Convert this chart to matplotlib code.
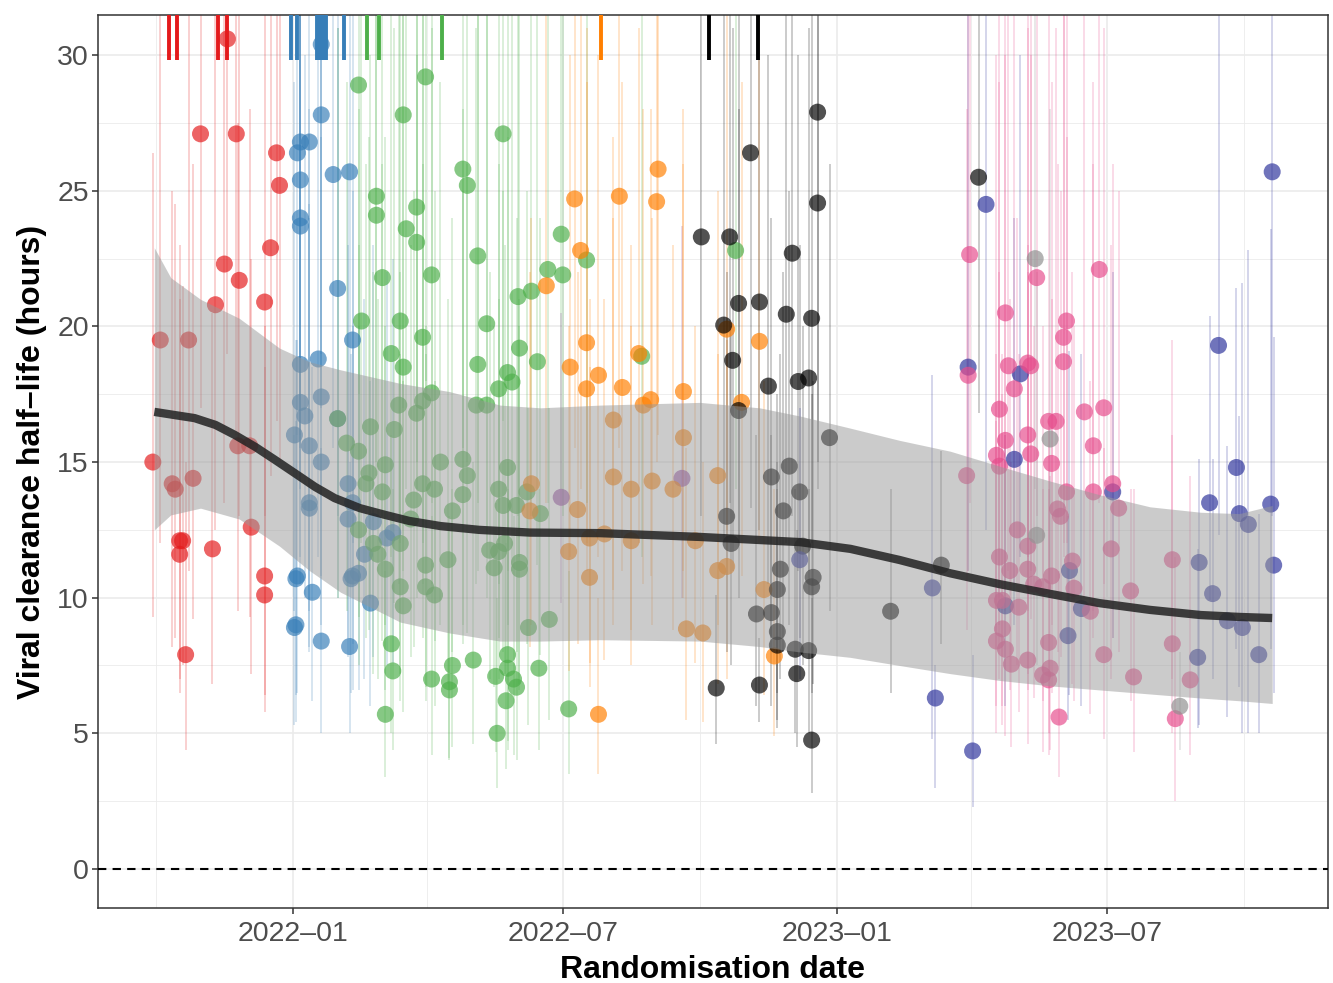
import numpy as np
import pandas as pd
import matplotlib
matplotlib.use("Agg")
from matplotlib import pyplot as plt
import matplotlib.dates as mdates
from matplotlib.ticker import MultipleLocator

plt.rcParams['font.family'] = ['Liberation Sans', 'DejaVu Sans']

base = pd.Timestamp('2022-01-01')

# days since 2022-01-01, half-life (hours), interval lower / upper
red_day = [-94, -89, -70, -81, -79, -67, -62, -38, -44, -11, -9, -15, -46, -36, -52, -19, -37, -29, -28, -76,
           -74, -76, -54, -19, -19, -72]
red_hl = [15.0, 19.5, 19.5, 14.2, 14.0, 14.4, 27.1, 27.1, 30.6, 26.4, 25.2, 22.9, 22.3, 21.7, 20.8, 20.9, 15.6, 15.6,
          12.6, 12.1, 12.1, 11.6, 11.8, 10.8, 10.1, 7.9]
red_lo = [9.3, 12.0, 11.0, 8.2, 8.5, 9.2, 17.0, 16.0, 19.0, 16.5, 15.0, 14.5, 13.5, 13.0, 12.5, 13.0, 9.5, 9.3,
          7.2, 7.0, 7.5, 6.5, 6.8, 6.4, 5.8, 4.4]
red_hi = [26.4, 34, 34, 25.0, 24.5, 26.0, 34, 34, 34, 34, 34, 34, 34, 33, 34, 34, 27.5, 28.0, 22.5, 23.0,
          21.5, 21.0, 20.5, 20.0, 18.5, 15.0]

blue_day = [19, 19, 11, 5, 3, 5, 5, 5, 27, 38, 30, 40, 5, 17, 5, 19, 8, 30, 1, 11,
            19, 37, 11, 11, 40, 37, 54, 48, 63, 67, 3, 2, 40, 39, 44, 13, 2, 1, 19, 38, 52]
blue_hl = [30.4, 27.8, 26.8, 26.8, 26.4, 25.4, 24.0, 23.7, 25.6, 25.7, 21.4, 19.5, 18.6, 18.8, 17.2, 17.4, 16.7, 16.6,
           16.0, 15.6, 15.0, 14.2, 13.5, 13.3, 13.5, 12.9, 12.8, 11.6, 12.2, 12.4, 10.8, 10.7, 10.8, 10.7, 10.9, 10.2,
           9.0, 8.9, 8.4, 8.2, 9.8]
blue_lo = [19, 17, 16.5, 16, 16, 15.5, 14.5, 14, 15.5, 16, 13, 12, 11.5, 11.5, 10.5, 10.8, 10, 10, 9.5, 9.5,
           9, 8.5, 8.2, 8, 8.3, 7.8, 7.8, 7, 7.5, 7.6, 6.5, 6.4, 6.6, 6.5, 6.6, 6.2, 5.4, 5.3, 5, 5, 6]
blue_hi = [34, 34, 34, 34, 34, 34, 34, 34, 34, 34, 34, 34, 34, 33, 34, 31, 30, 31, 29, 28,
           27, 26, 24.5, 24, 25, 23, 23, 21, 22, 22.5, 19.5, 19.5, 20, 19, 20, 18.5, 16.5, 16, 15.5, 15, 18]

green_day = [44, 89, 74, 141, 114, 117, 56, 56, 83, 76, 83, 124, 60, 93, 151, 160, 46, 72, 87, 130,
             152, 66, 74, 124, 144, 147, 138, 93, 71, 83, 87, 123, 130, 30, 52, 68, 36, 44, 62, 99,
             114, 117, 144, 51, 49, 87, 95, 114, 138, 157, 60, 81, 107, 141, 150, 166, 79, 44, 54, 72,
             57, 132, 142, 138, 135, 152, 152, 89, 104, 62, 72, 89, 95, 74, 158, 172, 66, 67, 107, 121,
             93, 105, 105, 136, 144, 144, 148, 150, 143, 62, 137, 165, 185, 180, 197, 171, 181, 164, 234, 297]
green_hl = [28.9, 29.2, 27.8, 27.1, 25.8, 25.2, 24.8, 24.1, 24.4, 23.6, 23.1, 22.6, 21.8, 21.9, 21.1, 21.3, 20.2, 20.2,
            19.6, 20.1, 19.2, 19.0, 18.5, 18.6, 18.3, 17.95, 17.7, 17.55, 17.1, 16.8, 17.25, 17.1, 17.1, 16.6, 16.3,
            16.2, 15.7, 15.4, 14.9, 15.0, 15.1, 14.5, 14.8, 14.6, 14.2, 14.2, 14.0, 13.8, 14.0, 13.9, 13.9, 13.6, 13.2,
            13.4, 13.4, 13.1, 12.9, 12.5, 12.0, 12.0, 11.6, 11.75, 12.0, 11.7, 11.1, 11.3, 11.05, 11.2, 11.4, 11.05,
            10.4, 10.4, 10.1, 9.7, 8.9, 9.2, 8.3, 7.3, 7.5, 7.7, 7.0, 6.9, 6.6, 7.1, 7.9, 7.4, 7.0, 6.7, 6.2, 5.7,
            5.0, 7.4, 5.9, 23.4, 22.45, 22.1, 21.9, 18.7, 18.9, 22.8]
green_lo = [17.5, 18, 17, 16.5, 15.5, 15, 15, 14.5, 15, 14, 14, 13.5, 13, 13.5, 13, 13, 12, 12, 12, 12,
            11.5, 11.5, 11, 11, 11, 11, 10.5, 10.5, 10.5, 10, 10.5, 10.5, 10, 10, 10, 9.8, 9.5, 9.3, 9, 9,
            9, 8.7, 9, 8.8, 8.5, 8.5, 8.4, 8.3, 8.5, 8.3, 8.4, 8.2, 8, 8, 8, 7.9, 7.8, 7.5, 7.2, 7.2,
            7, 7, 7.2, 7, 6.7, 6.8, 6.6, 6.7, 6.8, 6.6, 6.2, 6.2, 6, 5.8, 5.3, 5.5, 5, 4.4, 4.5, 4.6,
            4.2, 4.1, 4, 4.3, 4.7, 4.4, 4.2, 4, 3.7, 3.4, 3, 4.4, 3.5, 14, 13.5, 13.5, 13, 11.2, 11.5, 14]
green_hi = [34, 34, 34, 34, 34, 34, 34, 34, 34, 34, 34, 34, 34, 34, 34, 34, 34, 34, 34, 34,
            34, 34, 33, 34, 32, 34, 33, 31, 32, 30, 33, 31, 32, 31, 30, 31, 29, 28, 27, 29,
            28, 26, 27, 27, 26, 26, 25, 25, 26, 25, 26, 25, 24, 25, 24, 24, 23, 23, 22, 22,
            21, 22, 23, 21, 20, 21, 20, 20, 21, 20, 19, 19, 18, 18, 17, 17, 16, 14, 14, 15,
            13, 13, 12.5, 13.5, 15, 14, 13, 12.5, 12, 11, 10, 14, 11, 34, 34, 34, 34, 33, 34, 34]

purple_day = [180, 261]
purple_hl = [13.7, 14.4]
purple_lo = [9.8, 10.0]
purple_hi = [20.5, 23.7]

orange_day = [245, 189, 219, 244, 193, 170, 197, 186, 205, 197, 221, 262, 232, 240, 235, 215, 262, 215, 227, 241,
              255, 160, 159, 191, 185, 199, 209, 227, 270, 199, 264, 275, 205, 291, 313, 301, 285, 285, 291, 316, 323]
orange_hl = [25.8, 24.7, 24.8, 24.6, 22.8, 21.5, 19.4, 18.5, 18.2, 17.7, 17.75, 17.6, 19.0, 17.3, 17.1, 16.55, 15.9,
             14.45, 14.0, 14.3, 14.0, 14.2, 13.2, 13.25, 11.7, 12.2, 12.35, 12.1, 12.1, 10.75, 8.85, 8.7, 5.7, 19.9,
             19.45, 17.2, 14.5, 11.0, 11.15, 10.3, 7.85]
orange_lo = [16, 15.5, 15.5, 15, 14, 13.5, 12, 11.5, 11.5, 11, 11, 11, 12, 10.8, 10.5, 10.3, 10, 9, 8.8, 9,
             8.8, 9, 8.2, 8.3, 7.3, 7.6, 7.7, 7.5, 7.6, 6.7, 5.5, 5.4, 3.5, 12.5, 12, 10.8, 9, 6.8, 7, 6.4, 4.9]
orange_hi = [34, 34, 34, 34, 34, 33, 31, 30, 30, 29, 29, 28, 31, 28, 28, 27, 26, 24, 23, 24,
             23, 24, 22, 22, 20, 21, 21, 20, 20, 18.5, 15.5, 15, 10, 33, 32, 29, 25, 19, 19.5, 18, 14]

black_day = [352, 307, 352, 274, 293, 335, 299, 313, 289, 331, 348, 295, 319, 339, 346, 299, 360, 333, 321, 340,
             329, 291, 294, 342, 327, 325, 349, 348, 311, 321, 325, 325, 337, 346, 338, 284, 313, 348, 401, 435, 460]
black_hl = [27.9, 26.4, 24.55, 23.3, 23.3, 22.7, 20.85, 20.9, 20.05, 20.45, 20.3, 18.75, 17.8, 17.97, 18.1, 16.9,
            15.9, 14.85, 14.45, 13.9, 13.2, 13.0, 12.0, 11.9, 11.05, 10.3, 10.75, 10.4, 9.4, 9.45, 8.75, 8.25, 8.1,
            8.05, 7.2, 6.67, 6.78, 4.75, 9.5, 11.2, 25.5]
black_lo = [15, 13.3, 14, 13, 13.5, 13, 12, 12.5, 12, 12, 12, 11, 10.5, 11, 11, 10, 9.5, 9, 8.5, 8.5,
            8, 8, 7.5, 7.5, 7, 6.5, 6.8, 6.5, 6, 6, 5.5, 5.2, 5, 5, 4.5, 4.6, 5.4, 2.8, 6.5, 8.3, 16.8]
black_hi = [34, 34, 34, 34, 34, 34, 34, 34, 34, 33, 34, 31, 30, 30, 31, 28, 26, 25, 24, 23,
            22, 22, 20, 20, 19, 17.5, 18, 17.5, 16, 16, 15, 14, 14, 14, 12.5, 10.1, 8.5, 10, 14, 15.4, 34]

navy_day = [340, 465, 453, 488, 484, 429, 478, 521, 529, 520, 431, 456, 550, 657, 621, 633, 615, 635, 641, 656,
            608, 658, 617, 627, 637, 607, 648]
navy_hl = [11.4, 24.5, 18.5, 18.25, 15.1, 10.36, 9.7, 11.0, 9.6, 8.6, 6.3, 4.35, 13.9, 25.7, 19.3, 14.8, 13.5, 13.1,
           12.7, 13.45, 11.3, 11.2, 10.15, 9.15, 8.9, 7.8, 7.9]
navy_lo = [7.0, 12.5, 11, 11.5, 9, 4.8, 6, 6.4, 6, 5.5, 3.0, 2.3, 8.5, 13, 12.3, 8.1, 9.9, 6.7, 5.0, 8.1,
           5.3, 6.5, 7.0, 5.6, 5.0, 5.2, 5.0]
navy_hi = [17, 34, 34, 30, 24, 18.2, 16, 19.1, 19, 13, 7.5, 7.9, 22, 34, 34, 21.4, 20.4, 16.7, 22.8, 23.6,
           15.1, 19.6, 15.1, 15.6, 21.6, 11.8, 13.1]

pink_day = [454, 499, 541, 478, 519, 517, 517, 480, 493, 495, 453, 484, 474, 544, 531, 507, 512, 478, 493, 537,
            472, 495, 474, 509, 452, 550, 519, 537, 513, 515, 554, 486, 493, 549, 474, 481, 493, 523, 509, 497,
            503, 524, 472, 476, 487, 535, 476, 472, 478, 507, 544, 482, 493, 503, 507, 508, 514, 562, 590, 590,
            602, 592, 564]
pink_hl = [22.65, 21.8, 22.1, 20.5, 20.2, 19.6, 18.7, 18.55, 18.65, 18.55, 18.2, 17.7, 16.95, 17.0, 16.85, 16.5, 16.5,
           15.8, 16.0, 15.6, 15.25, 15.3, 14.85, 14.95, 14.5, 14.2, 13.9, 13.9, 13.27, 13.0, 13.3, 12.5, 11.9, 11.8,
           11.5, 11.0, 11.05, 11.35, 10.8, 10.5, 10.4, 10.35, 9.9, 9.9, 9.65, 9.5, 8.85, 8.4, 8.1, 8.35, 7.9, 7.55,
           7.7, 7.15, 6.97, 7.4, 5.6, 10.25, 11.4, 8.3, 6.97, 5.54, 7.08]
pink_lo = [13.5, 13, 13.5, 12.5, 12, 12, 11.5, 11, 11.5, 11, 11, 10.5, 10, 10.5, 10, 10, 10, 9.5, 9.5, 9.5,
           9, 9.2, 9, 9, 8.8, 8.5, 8.3, 8.5, 8, 7.8, 8, 7.5, 7.2, 7, 7, 6.6, 6.6, 6.8, 6.5, 6.3,
           6.2, 6.2, 6, 6, 5.8, 5.7, 5.3, 5, 4.9, 5, 4.8, 4.5, 4.6, 4.3, 4.2, 4.4, 3.4, 6.2, 7, 5,
           4.2, 2.5, 4.3]
pink_hi = [34, 34, 34, 34, 34, 34, 34, 34, 34, 34, 34, 33, 33, 31, 32, 32, 31, 30, 31, 29,
           30, 30, 29, 29, 28, 26, 27, 26, 26, 25, 25, 24, 23, 23, 22, 21, 22, 22, 21, 20,
           20, 20, 19, 19, 19, 18, 17.5, 16.5, 16, 16.5, 15.5, 15, 15.5, 14, 14, 14.5, 11, 14, 19.5, 16,
           14.5, 11.5, 14]

grey_day = [498, 508, 499, 595]
grey_hl = [22.5, 15.85, 12.3, 6.0]
grey_lo = [14, 10, 7.5, 4.4]
grey_hi = [34, 28, 22, 8]

# smoother and its band
smooth_day = [-93, -79, -66, -52, -39, -25, -12, 1, 15, 28, 45, 62, 78, 99, 125, 159, 206, 273, 340, 374,
              407, 441, 474, 508, 541, 575, 609, 635, 657]
smooth_mid = [16.85, 16.73, 16.62, 16.37, 16.0, 15.55, 15.08, 14.6, 14.08, 13.67, 13.3, 13.05, 12.83, 12.64, 12.5,
              12.4, 12.38, 12.24, 12.05, 11.8, 11.39, 10.9, 10.5, 10.14, 9.8, 9.55, 9.36, 9.29, 9.25]
band_day = [-93, -82, -62, -36, -9, 11, 32, 72, 105, 139, 166, 206, 273, 313, 340, 374, 407, 441, 474, 508,
            541, 575, 609, 635, 657]
band_hi = [22.9, 21.8, 21.0, 20.3, 19.2, 18.7, 18.4, 17.9, 17.6, 17.1, 17.0, 17.1, 17.2, 17.0, 16.7, 16.25, 15.8,
           15.4, 14.85, 14.3, 13.8, 13.35, 13.15, 13.1, 13.4]
band_lo = [12.5, 13.05, 13.3, 12.9, 11.9, 11.0, 10.2, 9.1, 8.7, 8.4, 8.4, 8.45, 8.4, 8.2, 8.0, 7.8, 7.5, 7.2,
           6.95, 6.75, 6.6, 6.45, 6.3, 6.2, 6.1]

# rug marks along the top
rug_day = [-83, -78, -50, -44, -1, 3, 16, 18, 20, 22, 34, 50, 58, 100, 207, 279, 312]
rug_col = ['#E41A1C'] * 4 + ['#377EB8'] * 7 + ['#4DAF4A'] * 3 + ['#FF7F00'] + ['#000000'] * 2

groups = [
    (red_day, red_hl, red_lo, red_hi, '#E41A1C'),
    (blue_day, blue_hl, blue_lo, blue_hi, '#377EB8'),
    (green_day, green_hl, green_lo, green_hi, '#4DAF4A'),
    (purple_day, purple_hl, purple_lo, purple_hi, '#984EA3'),
    (orange_day, orange_hl, orange_lo, orange_hi, '#FF7F00'),
    (black_day, black_hl, black_lo, black_hi, '#000000'),
    (navy_day, navy_hl, navy_lo, navy_hi, '#2D339B'),
    (pink_day, pink_hl, pink_lo, pink_hi, '#E64C8C'),
    (grey_day, grey_hl, grey_lo, grey_hi, '#8F8F8F'),
]


def to_date(days):
    return base + pd.to_timedelta(np.array(days, dtype=float), unit='D')


fig = plt.figure(figsize=(13.33, 9.83), dpi=100)
ax = fig.add_axes([0.0735, 0.0763, 0.9227, 0.9084])

for d, hl, lo, hi, c in groups:
    ax.vlines(to_date(d), lo, hi, colors=c, alpha=0.22, lw=1.3, zorder=2)
for d, hl, lo, hi, c in groups:
    ax.scatter(to_date(d), hl, s=150, color=c, alpha=0.68, edgecolors='none', zorder=3)

ax.fill_between(to_date(band_day), band_lo, band_hi, color='#999999', alpha=0.5, lw=0, zorder=4)
ax.plot(to_date(smooth_day), smooth_mid, color='#222222', lw=6, alpha=0.85, zorder=5,
        solid_capstyle='butt', solid_joinstyle='round')

ax.axhline(0, color='black', lw=1.5, ls=(0, (4, 3)), zorder=5)
ax.vlines(to_date(rug_day), 0.95, 1.0, colors=rug_col, lw=2.8,
          transform=ax.get_xaxis_transform(), zorder=6)

ax.set_xlim(base - pd.Timedelta(days=130.8), base + pd.Timedelta(days=694.4))
ax.set_ylim(-1.44, 31.48)

ax.xaxis.set_major_locator(mdates.MonthLocator(bymonth=[1, 7]))
ax.xaxis.set_minor_locator(mdates.MonthLocator(bymonth=[4, 10]))
ax.xaxis.set_major_formatter(mdates.DateFormatter('%Y\u2013%m'))
ax.yaxis.set_major_locator(MultipleLocator(5))
ax.yaxis.set_minor_locator(MultipleLocator(2.5))

ax.grid(which='major', color='#EBEBEB', lw=1.2, zorder=0)
ax.grid(which='minor', color='#EBEBEB', lw=0.6, zorder=0)
ax.set_axisbelow(True)

for s in ax.spines.values():
    s.set_color('#333333')
    s.set_linewidth(1.1)
ax.tick_params(which='major', length=4, width=1.1, color='#333333', labelcolor='#4D4D4D',
               labelsize=20.5)
ax.tick_params(axis='y', pad=2.5)
ax.tick_params(axis='x', pad=5.5)
ax.tick_params(which='minor', length=0)

ax.set_xlabel('Randomisation date', fontsize=23, fontweight='bold', labelpad=5.5)
ax.set_ylabel('Viral clearance half\u2013life (hours)', fontsize=23, fontweight='bold', labelpad=7)

fig.savefig('out.png', dpi=100)
